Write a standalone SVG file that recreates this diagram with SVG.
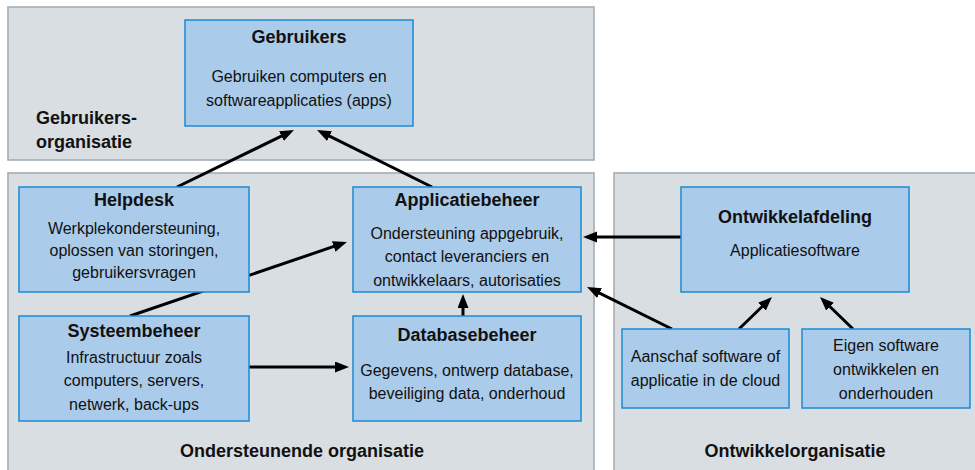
<svg xmlns="http://www.w3.org/2000/svg" width="975" height="470" viewBox="0 0 975 470">
  <defs>
    <marker id="arrow" markerUnits="userSpaceOnUse" markerWidth="16" markerHeight="12" refX="4" refY="5.5" orient="auto">
      <path d="M0,0 L14,5.5 L0,11 Z" fill="#000"/>
    </marker>
    <style>
      .panel { fill: #d9dee2; stroke: #a5acb3; stroke-width: 1.6; }
      .box { fill: #abcbea; stroke: #1b8ad3; stroke-width: 1.5; }
      text { font-family: "Liberation Sans", Arial, sans-serif; fill: #111; }
      .title { font-size: 18px; font-weight: bold; text-anchor: middle; }
      .body { font-size: 16px; text-anchor: middle; }
      .org { font-size: 18px; font-weight: bold; }
      .link { stroke: #000; stroke-width: 3; fill: none; marker-end: url(#arrow); }
    </style>
  </defs>
  <rect width="975" height="470" fill="#fff"/>

  <!-- organisation panels -->
  <g id="gebruikersorganisatie">
    <rect class="panel" x="8" y="7" width="586" height="153"/>
    <text class="org" x="36" y="124">Gebruikers-</text>
    <text class="org" x="36" y="148">organisatie</text>
  </g>
  <g id="ondersteunende-organisatie">
    <rect class="panel" x="8" y="173" width="586" height="305"/>
    <text class="org" x="302" y="457" text-anchor="middle">Ondersteunende organisatie</text>
  </g>
  <g id="ontwikkelorganisatie">
    <rect class="panel" x="614" y="173" width="370" height="305"/>
    <text class="org" x="795" y="457" text-anchor="middle">Ontwikkelorganisatie</text>
  </g>

  <!-- connectors -->
  <g id="connectors">
    <line class="link" x1="177" y1="187" x2="285" y2="134.4"/>
    <line class="link" x1="432" y1="187" x2="326" y2="134.4"/>
    <line class="link" x1="130" y1="316" x2="337.5" y2="245.2"/>
    <line class="link" x1="249" y1="367" x2="339" y2="367"/>
    <line class="link" x1="463" y1="316" x2="463" y2="304"/>
    <line class="link" x1="681" y1="237" x2="593" y2="237"/>
    <line class="link" x1="672" y1="329" x2="596" y2="291.4"/>
    <line class="link" x1="739" y1="329" x2="764.8" y2="304"/>
    <line class="link" x1="853" y1="329" x2="827.2" y2="304"/>
  </g>

  <!-- nodes -->
  <g id="gebruikers">
    <rect class="box" x="185" y="20" width="228" height="106"/>
    <text class="title" x="299" y="43">Gebruikers</text>
    <text class="body" x="299" y="82">Gebruiken computers en</text>
    <text class="body" x="299" y="106">softwareapplicaties (apps)</text>
  </g>
  <g id="helpdesk">
    <rect class="box" x="19" y="187" width="230" height="105"/>
    <text class="title" x="134" y="206">Helpdesk</text>
    <text class="body" x="134" y="234">Werkplekondersteuning,</text>
    <text class="body" x="134" y="256">oplossen van storingen,</text>
    <text class="body" x="134" y="278">gebruikersvragen</text>
  </g>
  <g id="applicatiebeheer">
    <rect class="box" x="353" y="187" width="228" height="105"/>
    <text class="title" x="467" y="206">Applicatiebeheer</text>
    <text class="body" x="467" y="239">Ondersteuning appgebruik,</text>
    <text class="body" x="467" y="262">contact leveranciers en</text>
    <text class="body" x="467" y="286">ontwikkelaars, autorisaties</text>
  </g>
  <g id="systeembeheer">
    <rect class="box" x="19" y="316" width="230" height="105"/>
    <text class="title" x="134" y="337">Systeembeheer</text>
    <text class="body" x="134" y="363">Infrastructuur zoals</text>
    <text class="body" x="134" y="386">computers, servers,</text>
    <text class="body" x="134" y="410">netwerk, back-ups</text>
  </g>
  <g id="databasebeheer">
    <rect class="box" x="353" y="316" width="228" height="105"/>
    <text class="title" x="467" y="341">Databasebeheer</text>
    <text class="body" x="467" y="376">Gegevens, ontwerp database,</text>
    <text class="body" x="467" y="399">beveiliging data, onderhoud</text>
  </g>
  <g id="ontwikkelafdeling">
    <rect class="box" x="681" y="187" width="228" height="105"/>
    <text class="title" x="795" y="223">Ontwikkelafdeling</text>
    <text class="body" x="795" y="256">Applicatiesoftware</text>
  </g>
  <g id="aanschaf">
    <rect class="box" x="622" y="329" width="167" height="79"/>
    <text class="body" x="705.5" y="362">Aanschaf software of</text>
    <text class="body" x="705.5" y="386">applicatie in de cloud</text>
  </g>
  <g id="eigen-software">
    <rect class="box" x="802" y="329" width="168" height="79"/>
    <text class="body" x="886" y="351">Eigen software</text>
    <text class="body" x="886" y="375">ontwikkelen en</text>
    <text class="body" x="886" y="399">onderhouden</text>
  </g>
</svg>
